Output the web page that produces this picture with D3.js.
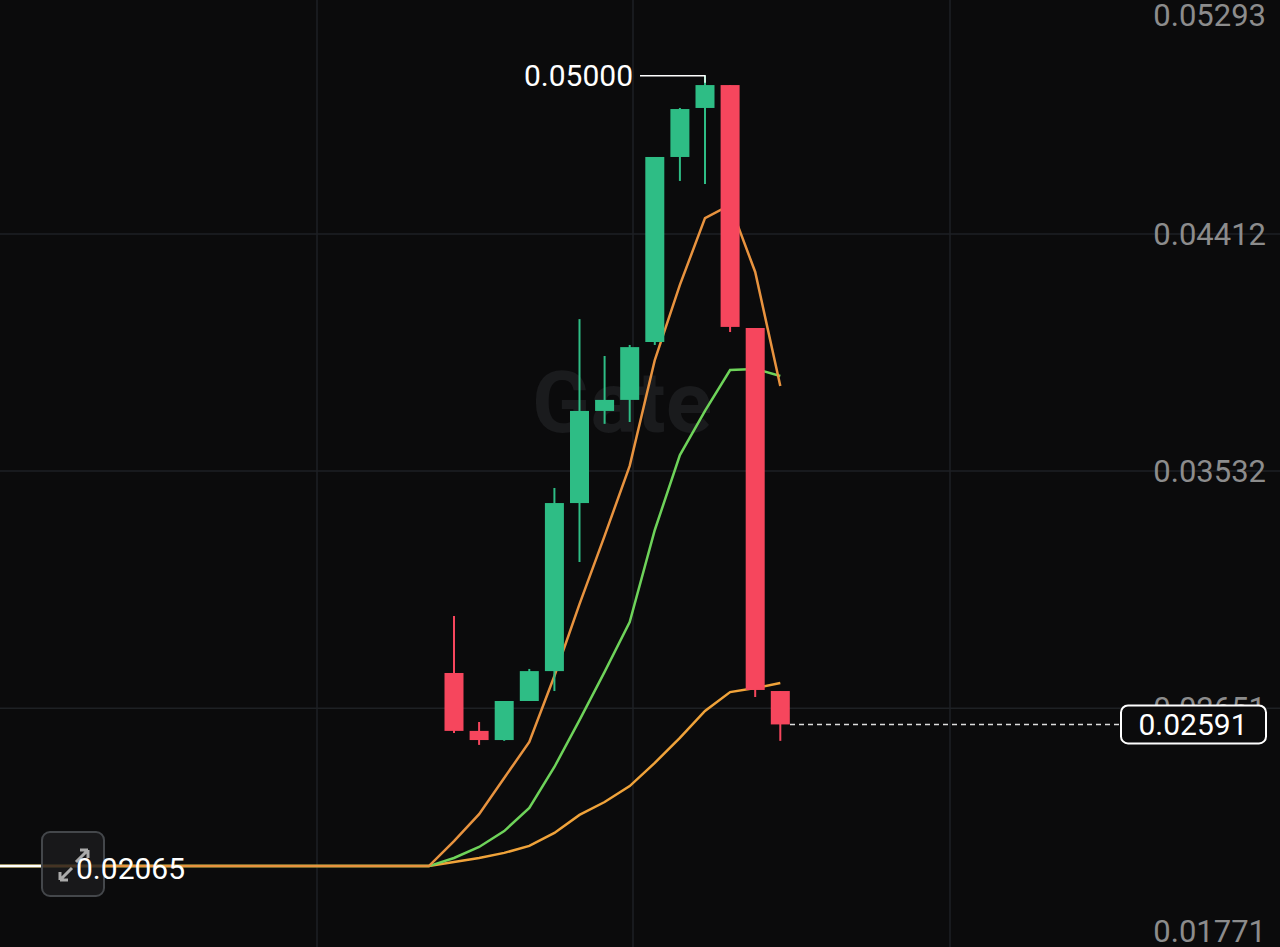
<!DOCTYPE html><html><head><meta charset="utf-8">
<script src="https://cdn.jsdelivr.net/npm/d3@7"></script>
<style>body{margin:0;background:#0b0b0c}svg{display:block}</style></head><body>
<svg id="c" width="1280" height="947"></svg>
<script>
const opens  =[0.02782,0.02567,0.02533,0.02678,0.02789,0.03413,0.03755,0.03796,0.04011,0.04698,0.04880,0.04965,0.04063,0.02715];
const closes =[0.02567,0.02533,0.02678,0.02789,0.03413,0.03755,0.03796,0.03992,0.04698,0.04876,0.04965,0.04067,0.02719,0.02591];
const highs  =[0.02994,0.02600,0.02678,0.02797,0.03469,0.04096,0.03959,0.04000,0.04698,0.04880,0.05000,0.04965,0.04063,0.02715];
const lows   =[0.02559,0.02515,0.02530,0.02678,0.02715,0.03194,0.03707,0.03714,0.04000,0.04609,0.04598,0.04048,0.02693,0.02530];
const flatVal=0.02065;
const maFast=[0.02065,0.02158,0.02258,0.02392,0.02526,0.02771,0.03038,0.03291,0.03551,0.03944,0.04223,0.04471,0.04520,0.04271,0.03848];
const maMid =[0.02065,0.02095,0.02136,0.02195,0.02281,0.02433,0.02607,0.02786,0.02971,0.03313,0.03591,0.03755,0.03907,0.03911,0.03885];
const maSlow=[0.02065,0.02080,0.02095,0.02114,0.02140,0.02188,0.02255,0.02303,0.02362,0.02448,0.02541,0.02641,0.02711,0.02726,0.02745];
const yTicks=[0.05293,0.04412,0.03532,0.02651,0.01771];
const lastPrice=0.02591, maxPrice=0.05000;

const svg=d3.select("#c");
const x=d3.scaleLinear().domain([0,1]).range([454,479.1]);
const y=d3.scaleLinear().domain([0.04412,0.03532]).range([234,471]);
const F="Roboto";
svg.append("rect").attr("width",1280).attr("height",947).attr("fill","#0b0b0c");
[317,633,950].forEach(v=>svg.append("line").attr("x1",v).attr("x2",v).attr("y1",0).attr("y2",947).attr("stroke","#1e2124").attr("stroke-width",1.5));
yTicks.slice(1,4).forEach(t=>svg.append("line").attr("x1",0).attr("x2",1280).attr("y1",y(t)).attr("y2",y(t)).attr("stroke","#1e2124").attr("stroke-width",1.5));
svg.append("text").attr("x",622).attr("y",432).attr("text-anchor","middle").attr("font-family",F).attr("font-weight","bold").attr("font-size",86).attr("fill","#1a1b1d").text("Gate");
const tpos=[15,234,471,708,931];
yTicks.forEach((t,i)=>svg.append("text").attr("x",1266).attr("y",tpos[i]).attr("dy","0.35em")
 .attr("text-anchor","end").attr("font-family",F).attr("font-size",31).attr("fill","#8c8c8c").text(t.toFixed(5)));
const lineIdx=d3.range(-1,14);
const ln=d3.line().x(d=>x(d[0])).y(d=>y(d[1]));
function ma(vals,col){
  const pts=[[-18.1,flatVal]].concat(lineIdx.map((i,k)=>[i,vals[k]]));
  svg.append("path").attr("d",ln(pts)).attr("fill","none").attr("stroke",col).attr("stroke-width",2.5);
}
ma(maSlow,"#f0a33a");ma(maMid,"#6ed35a");ma(maFast,"#e8933f");
svg.append("line").attr("x1",0).attr("x2",42).attr("y1",y(flatVal)).attr("y2",y(flatVal)).attr("stroke","#fff").attr("stroke-width",2.5);
const w=19;
opens.forEach((o,i)=>{
  const c=closes[i],up=c>=o,col=up?"#2ebd85":"#f6465d";
  svg.append("line").attr("x1",x(i)).attr("x2",x(i)).attr("y1",y(highs[i])).attr("y2",y(lows[i])).attr("stroke",col).attr("stroke-width",2);
  svg.append("rect").attr("x",x(i)-w/2).attr("width",w).attr("y",y(Math.max(o,c))).attr("height",Math.max(2,Math.abs(y(o)-y(c)))).attr("fill",col);
});
const mi=10;
svg.append("path").attr("d",`M640,${y(maxPrice)}H${x(mi)}V${y(maxPrice)+7}`).attr("fill","none").attr("stroke","#fff").attr("stroke-width",1.5);
svg.append("text").attr("x",633).attr("y",y(maxPrice)).attr("dy","0.35em").attr("text-anchor","end").attr("font-family",F).attr("font-size",30).attr("fill","#fff").text(maxPrice.toFixed(5));
svg.append("line").attr("x1",790).attr("x2",1120).attr("y1",y(lastPrice)).attr("y2",y(lastPrice)).attr("stroke","#ddd").attr("stroke-width",1.5).attr("stroke-dasharray","5,4");
svg.append("rect").attr("x",1121).attr("y",y(lastPrice)-19).attr("width",145).attr("height",38).attr("rx",7).attr("fill","#0b0b0c").attr("stroke","#fff").attr("stroke-width",2);
svg.append("text").attr("x",1193).attr("y",y(lastPrice)).attr("dy","0.36em").attr("text-anchor","middle").attr("font-family",F).attr("font-size",30).attr("fill","#fff").text(lastPrice.toFixed(5));
svg.append("rect").attr("x",42).attr("y",832).attr("width",62).attr("height",64).attr("rx",8).attr("fill","#1b1c1e").attr("fill-opacity",0.8).attr("stroke","#44474b").attr("stroke-width",2);
svg.append("path").attr("d","M60,880 L72,868 M60,880 h8 M60,880 v-8 M88,850 L76,862 M88,850 h-8 M88,850 v8").attr("stroke","#aaa").attr("stroke-width",3).attr("fill","none");
svg.append("text").attr("x",76).attr("y",y(flatVal)+2).attr("dy","0.35em").attr("font-family",F).attr("font-size",30).attr("fill","#fff").text(flatVal.toFixed(5));
</script></body></html>
